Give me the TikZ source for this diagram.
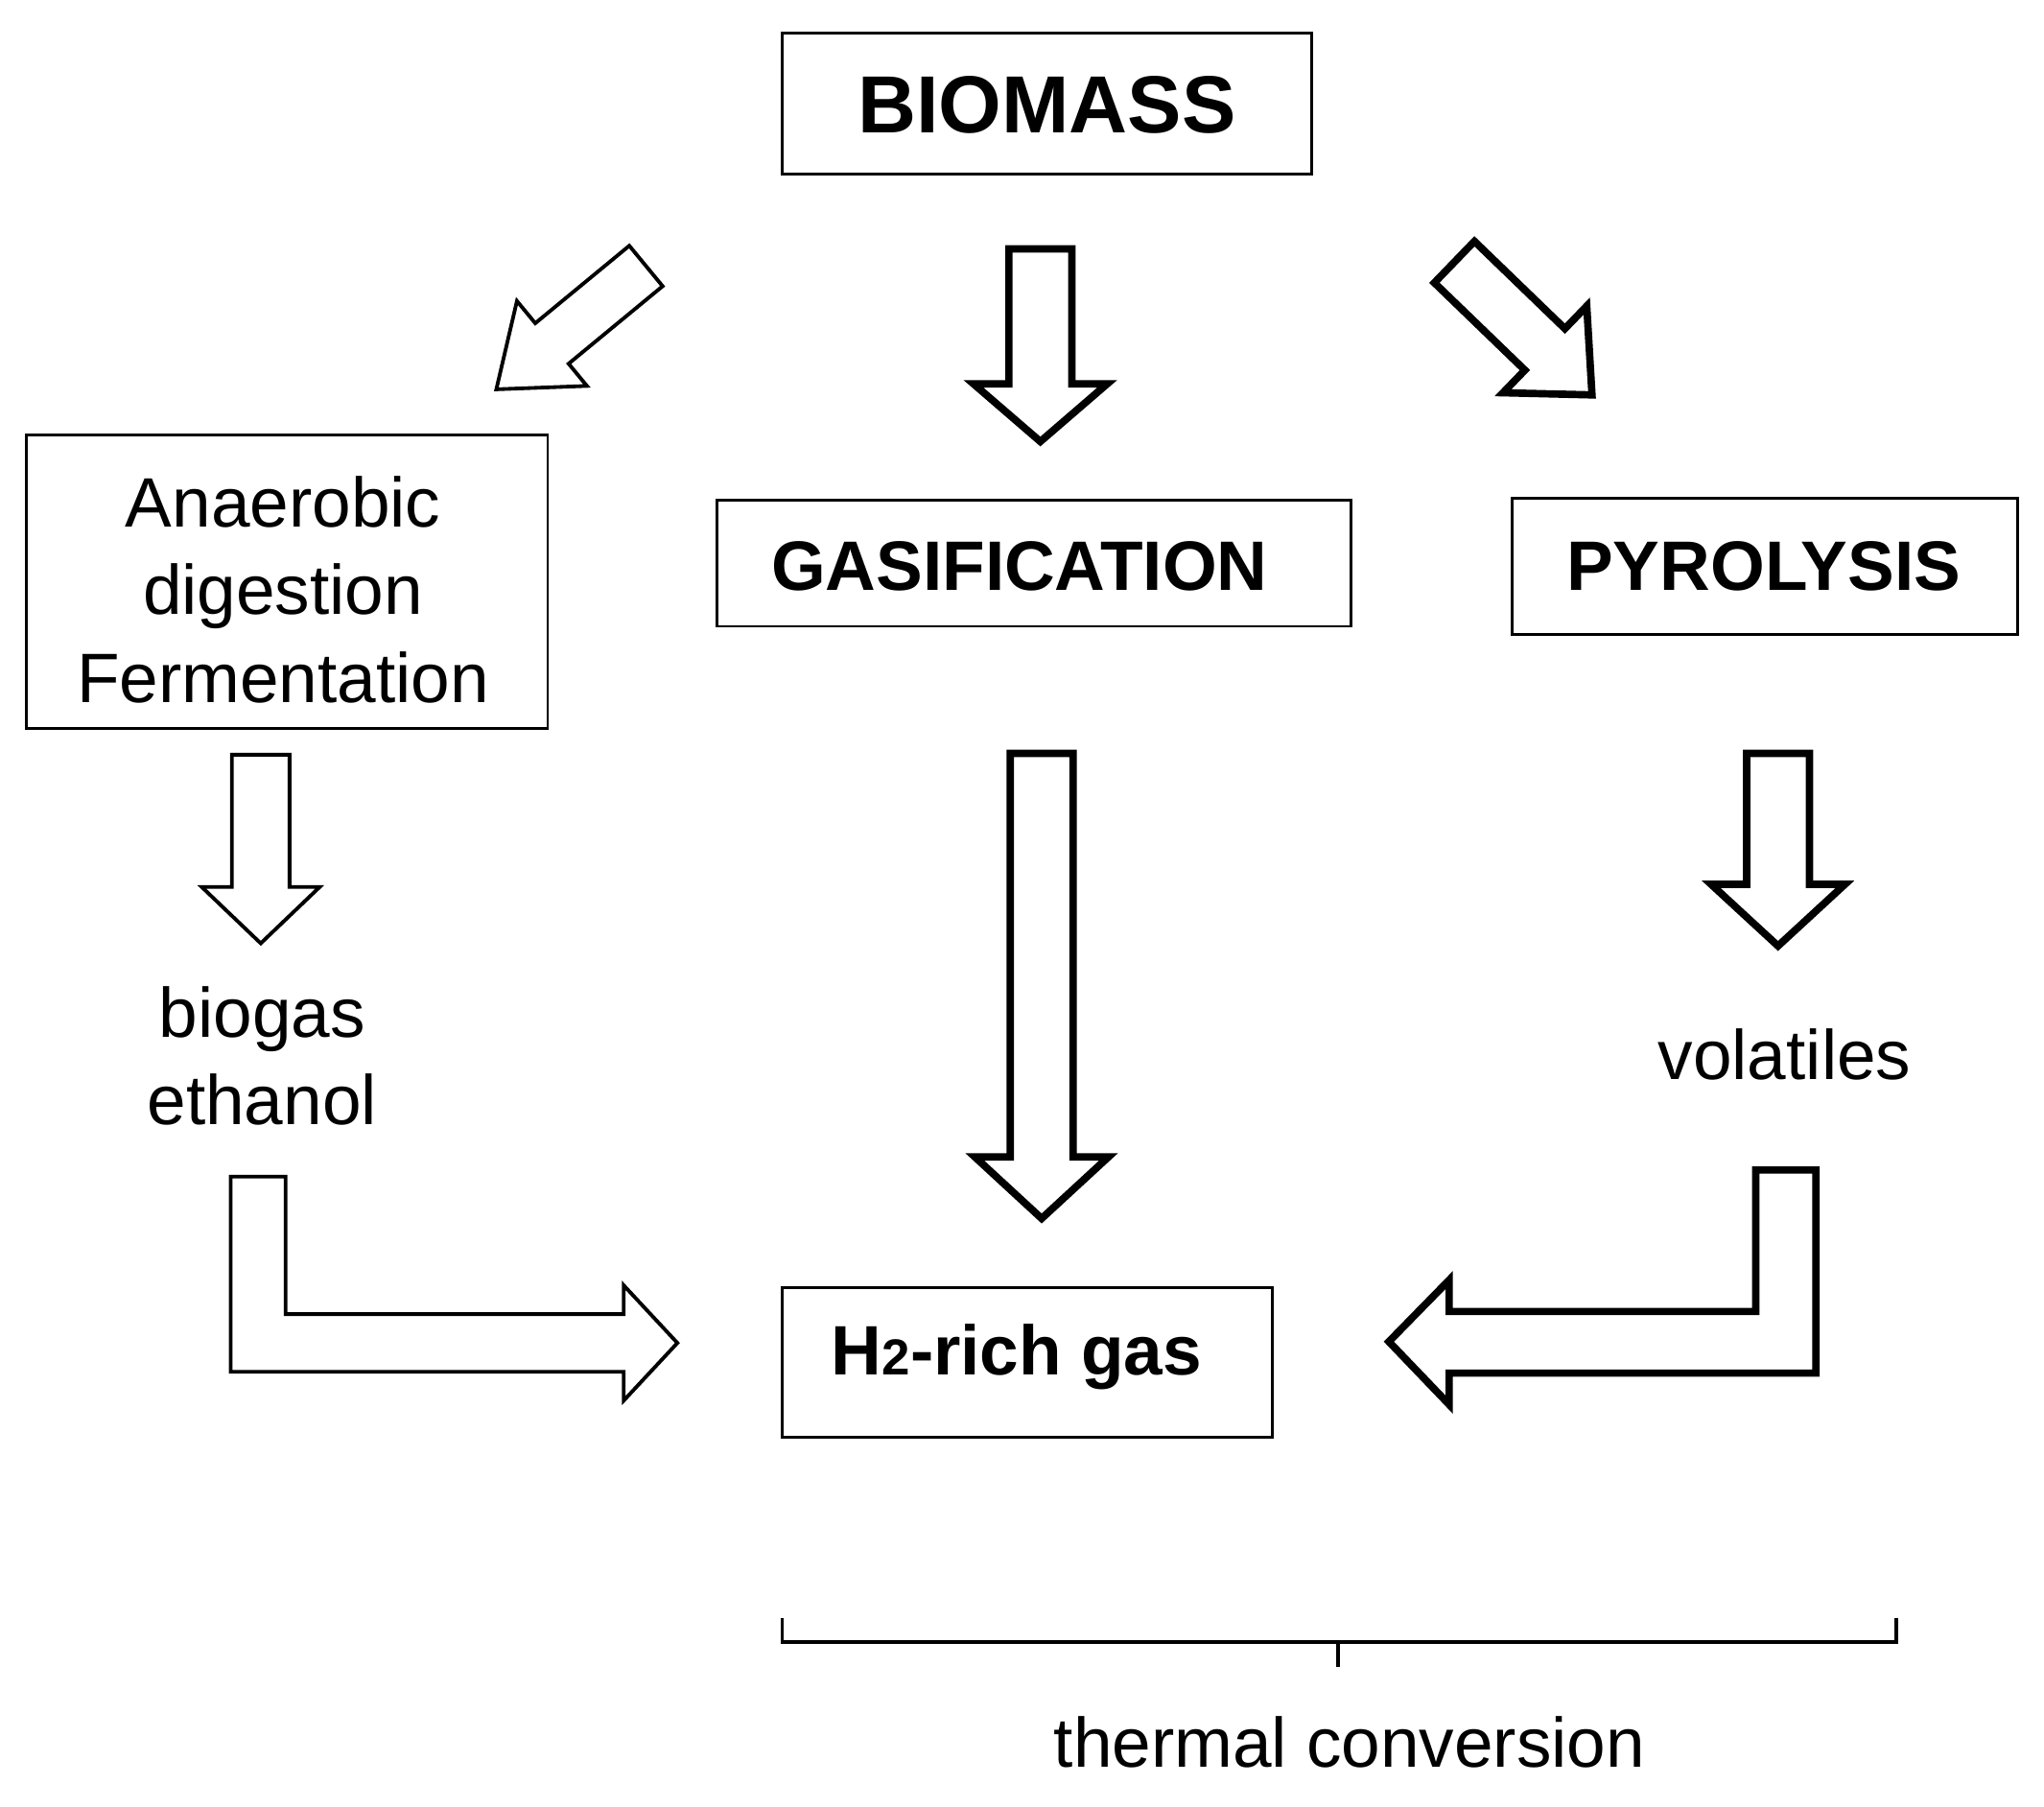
\documentclass[tikz,border=0pt]{standalone}
\usepackage{fontspec}
\setmainfont{Liberation Sans}
\begin{document}
\begin{tikzpicture}[x=0.05cm,y=-0.05cm,
 box/.style={draw,line width=3pt,inner sep=0pt},
 thinA/.style={draw,line width=4pt,fill=white,line join=miter},
 thickA/.style={draw,line width=8pt,fill=white,line join=miter},
 reg/.style={font=\fontsize{76pt}{95pt}\selectfont,align=center},
 bld/.style={font=\fontsize{76pt}{95pt}\selectfont\bfseries}]
\useasboundingbox (0,0) rectangle (1560,1379);
% hollow arrow: #1 style, #2 tail, #3 angle(math), #4 length, #5 half shaft, #6 half head, #7 head length
\newcommand{\harrow}[7]{\begin{scope}[shift={#2},rotate=#3]
 \draw[#1] (0,-#5) -- ({#4-#7},-#5) -- ({#4-#7},-#6) -- (#4,0) -- ({#4-#7},#6) -- ({#4-#7},#5) -- (0,#5) -- cycle;
 \end{scope}}
\draw[box] (597,25) rectangle (1001,133);
\node[font=\fontsize{88pt}{95pt}\selectfont\bfseries] (bio) at (799,80) {BIOMASS};
\draw[box] (20,332) rectangle (418,556);
\node[reg] (ana) at (216,450) {Anaerobic\\digestion\\Fermentation};
\draw[box] (547,382) rectangle (1031,478);
\node[bld] (gas) at (778,432) {GASIFICATION};
\draw[box] (1154,380) rectangle (1540,484);
\node[bld] (pyr) at (1346,432) {PYROLYSIS};
\draw[box] (597,983) rectangle (971,1097);
\node[bld] (h2) at (776,1036) {H{\fontsize{55pt}{60pt}\selectfont 2}-rich gas};
\node[reg] (bioeth) at (200,806) {biogas\\ethanol};
\node[reg] (vol) at (1362,805) {volatiles};
\node[reg] (th) at (1030,1330) {thermal conversion};
\draw[line width=4pt] (597,1235) -- (597,1253) -- (1447,1253) -- (1447,1235) (1021,1253) -- (1021,1272);
\harrow{thinA}{(493,203)}{219.5}{148}{20}{42}{55}
\harrow{thickA}{(794,190)}{-90}{147}{24}{51}{44}
\harrow{thickA}{(1110,200)}{-44}{146}{22}{46}{50}
\harrow{thinA}{(199,576)}{-90}{144}{22}{45}{43}
\harrow{thickA}{(795,575)}{-90}{355}{24}{51}{47}
\harrow{thickA}{(1357,575)}{-90}{147}{24}{51}{47}
\draw[thinA] (176,898) -- (218,898) -- (218,1003) -- (476,1003) -- (476,981) -- (517,1025) -- (476,1069) -- (476,1047) -- (176,1047) -- cycle;
\draw[thickA] (1340,893) -- (1386,893) -- (1386,1048) -- (1106,1048) -- (1106,1072) -- (1060,1024) -- (1106,977) -- (1106,1001) -- (1340,1001) -- cycle;
\end{tikzpicture}
\end{document}
